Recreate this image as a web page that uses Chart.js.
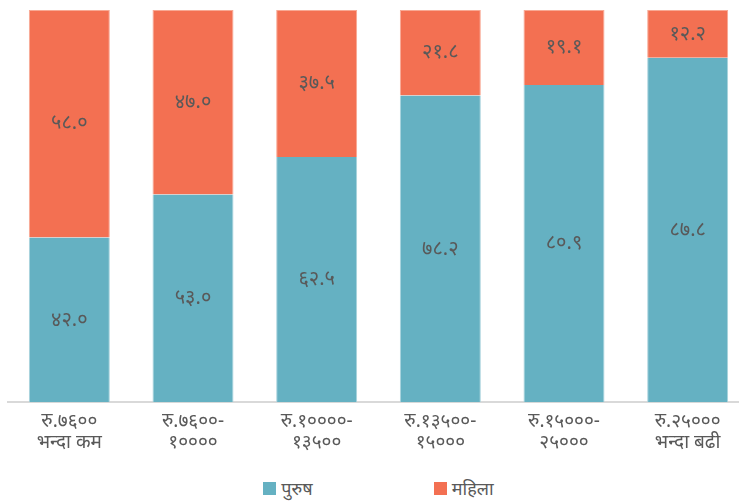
<!DOCTYPE html>
<html>
<head>
<meta charset="utf-8">
<script src="https://cdn.jsdelivr.net/npm/chart.js@4"></script>
<style>
  html, body { margin:0; padding:0; background:#fff; overflow:hidden; width:739px; height:502px; }
  #wrap { position:absolute; left:0; top:0; width:757px; height:458px; }
  #legend { position:absolute; top:476px; left:0; width:757px; display:flex; justify-content:center; font-family:"Noto Sans","Noto Sans Devanagari",sans-serif; font-size:18px; color:#595959; }
  .item { display:flex; align-items:center; }
  .box { width:13px; height:13px; margin-right:5px; }
</style>
</head>
<body>
<div id="wrap"><canvas id="c"></canvas></div>
<div id="legend"></div>
<script>
const categories = [
  ['रु.७६००', 'भन्दा कम'],
  ['रु.७६००-', '१००००'],
  ['रु.१००००-', '१३५००'],
  ['रु.१३५००-', '१५०००'],
  ['रु.१५०००-', '२५०००'],
  ['रु.२५०००', 'भन्दा बढी']
];
const seriesNames = ['पुरुष', 'महिला'];
const maleValues = [42.0, 53.0, 62.5, 78.2, 80.9, 87.8];
const femaleValues = [58.0, 47.0, 37.5, 21.8, 19.1, 12.2];
const colors = ['#65B1C2', '#F37052'];

const devDigits = '०१२३४५६७८९';
function toDev(v) { return v.toFixed(1).replace(/[0-9]/g, d => devDigits[+d]); }

const labelPlugin = {
  id: 'segLabels',
  afterDatasetsDraw(chart) {
    const ctx = chart.ctx;
    ctx.save();
    ctx.fillStyle = '#595959';
    ctx.font = '20px "Noto Sans", "Noto Sans Devanagari", sans-serif';
    ctx.textAlign = 'center';
    ctx.textBaseline = 'middle';
    chart.data.datasets.forEach((ds, di) => {
      chart.getDatasetMeta(di).data.forEach((bar, i) => {
        const yc = (bar.y + bar.base) / 2;
        ctx.fillText(toDev(ds.data[i]), bar.x, yc);
      });
    });
    ctx.restore();
  }
};

new Chart(document.getElementById('c'), {
  type: 'bar',
  data: {
    labels: categories,
    datasets: [
      { label: seriesNames[0], data: maleValues, backgroundColor: colors[0], borderColor: '#A9D3DD', borderWidth: {left:1,right:1,top:0,bottom:0}, borderSkipped: false, categoryPercentage: 1.0, barPercentage: 0.655 },
      { label: seriesNames[1], data: femaleValues, backgroundColor: colors[1], borderColor: '#F8A994', borderWidth: {left:1,right:1,top:1,bottom:0}, borderSkipped: false, categoryPercentage: 1.0, barPercentage: 0.655 }
    ]
  },
  options: {
    responsive: true,
    maintainAspectRatio: false,
    animation: false,
    layout: { padding: { left: 7.5, right: 7.5, top: 10, bottom: 4 } },
    plugins: { legend: { display: false }, tooltip: { enabled: false } },
    scales: {
      x: {
        stacked: true,
        grid: { display: false },
        border: { display: true, color: '#D9D9D9', width: 2 },
        ticks: { color: '#595959', font: { size: 19, family: '"Noto Sans", "Noto Sans Devanagari", sans-serif', lineHeight: 1.15 }, padding: 0, maxRotation: 0 }
      },
      y: {
        stacked: true,
        display: false,
        min: 0, max: 100
      }
    }
  },
  plugins: [labelPlugin]
});

const leg = document.getElementById('legend');
seriesNames.forEach((n, i) => {
  const it = document.createElement('div');
  it.className = 'item';
  it.style.marginRight = i === 0 ? '121px' : '0';
  it.innerHTML = '<div class="box" style="background:' + colors[i] + '"></div><span>' + n + '</span>';
  leg.appendChild(it);
});
</script>
</body>
</html>
